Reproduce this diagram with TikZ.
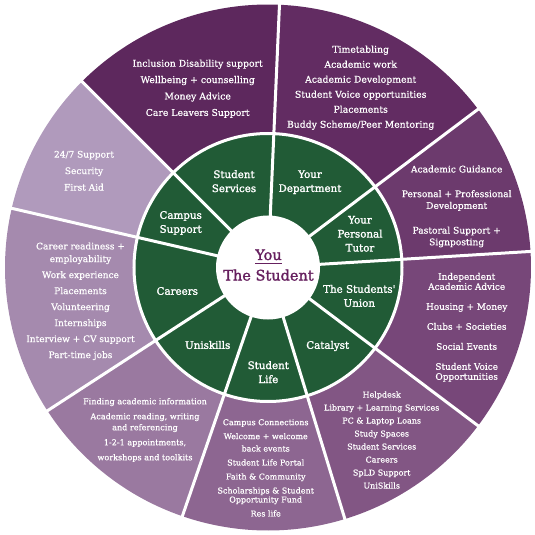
\documentclass[tikz,border=0pt]{standalone}
\usepackage{fontspec}
\setmainfont{DejaVu Serif}[FakeBold=0.6]
\newfontfamily\hubfont{DejaVu Serif}[FakeBold=1.6]

\definecolor{hubgreen}{HTML}{215B36}
\definecolor{youpurple}{HTML}{66205F}
\definecolor{segSrv}{HTML}{5D285D}
\definecolor{segDept}{HTML}{622C62}
\definecolor{segTutor}{HTML}{6C3A6D}
\definecolor{segUnion}{HTML}{774779}
\definecolor{segCat}{HTML}{825684}
\definecolor{segLife}{HTML}{8D6691}
\definecolor{segSkill}{HTML}{9A79A0}
\definecolor{segCareer}{HTML}{A58AAE}
\definecolor{segCampus}{HTML}{B09ABC}

\tikzset{every text node part/.style={align=center}}
\tikzset{divider/.style = {draw=white, line width=3pt},
         hub/.style = {text=white, inner sep=0pt, font=\hubfont\fontsize{10.3}{14}\selectfont},
         list/.style = {text=white, inner sep=0pt}
        }

\newcommand{\wheelslice}[3]{\fill[#3] (0,0) -- (#1:263) arc[start angle=#1, end angle=#2, radius=263] -- cycle;}

\begin{document}
\begin{tikzpicture}[x=1pt, y=1pt, line cap=round, line join=round]
		\useasboundingbox (-268,-267.5) rectangle (267,267.5);
		
		% Outer ring
		\wheelslice{37}{87.5}{segDept}
		\wheelslice{87.5}{135}{segSrv}
		\wheelslice{135}{167}{segCampus}
		\wheelslice{167}{213}{segCareer}
		\wheelslice{213}{251}{segSkill}
		\wheelslice{251}{287}{segLife}
		\wheelslice{287}{323}{segCat}
		\wheelslice{323}{363.5}{segUnion}
		\wheelslice{3.5}{37}{segTutor}
		
		% Green ring
		\fill[hubgreen] (0,0) circle[radius=134];
		\draw[white, line width=3pt] (0,0) circle[radius=134];
		
		% Dividers
		\foreach \a in {87.5,37,3.5,-37,-73,-109,-147,167,135}
			\draw[divider] (\a:50) -- (\a:266);
		
		% Centre
		\node[circle, fill=white, minimum size=104pt, inner sep=0pt] (centre) at (0,0) {};
		
		\begin{scope}[shift={(-268,267.5)}, yscale=-1]
		% You
		\node[text=youpurple, anchor=base, inner xsep=0pt, inner ysep=3.3pt,
		      font=\hubfont\fontsize{14.5}{17}\selectfont] (you) at (268.5,260) {You};
		\draw[youpurple, line width=1.2pt, line cap=butt] (you.south west) -- (you.south east);
		\node[text=youpurple, anchor=base, font=\hubfont\fontsize{14.5}{17}\selectfont] (student) at (268.5,280.5) {The Student};
		
		% Hub labels
		\node[hub] (hubsrv) at (234,181.2) {Student\\Services};
		\node[hub] (hubdept) at (310,182.2) {Your\\Department};
		\node[hub] (hubtutor) at (360,233.8) {Your\\Personal\\Tutor};
		\node[hub] (hubunion) at (359.3,295.9) {The Students'\\Union};
		\node[hub] (hubcat) at (327.7,346) {Catalyst};
		\node[hub] (hublife) at (268.3,372.2) {Student\\Life};
		\node[hub] (hubskill) at (207.7,345) {Uniskills};
		\node[hub] (hubcareer) at (177.3,291) {Careers};
		\node[hub] (hubcampus) at (180.7,223) {Campus\\Support};
		
		% Service lists
		\node[list, font=\fontsize{9.3}{16.4}\selectfont] (srvlist) at (197.7,88.7)
			{Inclusion Disability support\\Wellbeing + counselling\\Money Advice\\Care Leavers Support};
		\node[list, font=\fontsize{9.3}{15}\selectfont] (deptlist) at (360.7,87.7)
			{Timetabling\\Academic work\\Academic Development\\Student Voice opportunities\\Placements\\Buddy Scheme/Peer Mentoring};
		\node[list, font=\fontsize{9.1}{11.7}\selectfont] (tutorlist) at (456.7,206.4)
			{Academic Guidance\\[13pt]Personal + Professional\\Development\\[13pt]Pastoral Support +\\Signposting};
		\node[list, font=\fontsize{8.9}{10}\selectfont] (unionlist) at (466.7,327.3)
			{Independent\\Academic Advice\\[10pt]Housing + Money\\[10pt]Clubs + Societies\\[10pt]Social Events\\[10pt]Student Voice\\Opportunities};
		\node[list, font=\fontsize{8}{13}\selectfont] (catlist) at (381.7,440)
			{Helpdesk\\Library + Learning Services\\PC \& Laptop Loans\\Study Spaces\\Student Services\\Careers\\SpLD Support\\UniSkills};
		\node[list, font=\fontsize{8}{14}\selectfont] (lifelist) at (265.7,467.9)
			{Campus Connections\\Welcome + welcome\\[-1.7pt]back events\\Student Life Portal\\Faith \& Community\\Scholarships \& Student\\[-5pt]Opportunity Fund\\Res life};
		\node[list, font=\fontsize{8.1}{15}\selectfont] (skilllist) at (145,430)
			{Finding academic information\\Academic reading, writing\\[-4pt]and referencing\\1-2-1 appointments,\\workshops and toolkits};
		\node[list, font=\fontsize{9}{16}\selectfont] (careerlist) at (80.5,301.3)
			{Career readiness +\\[-3.3pt]employability\\Work experience\\Placements\\Volunteering\\Internships\\Interview + CV support\\Part-time jobs};
		\node[list, font=\fontsize{9}{16.5}\selectfont] (campuslist) at (84,170.8)
			{24/7 Support\\Security\\First Aid};
		\end{scope}
	\end{tikzpicture}
\end{document}
